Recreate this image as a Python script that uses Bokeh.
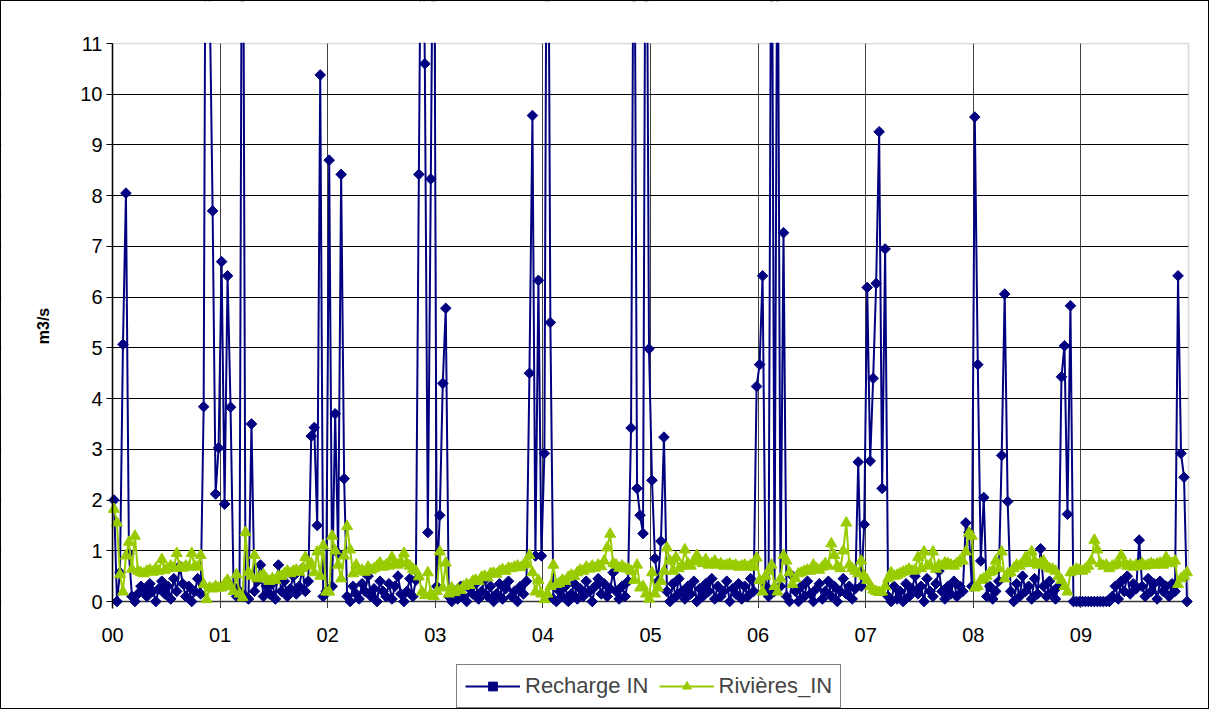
import numpy as np
from bokeh.plotting import figure
from bokeh.models import Range1d, FixedTicker, Legend, LegendItem, BoxAnnotation
from bokeh.embed import file_html
from bokeh.resources import INLINE

# ---- data (36 ten-day steps per year) ----
year_labels = ["00", "01", "02", "03", "04", "05", "06", "07", "08", "09"]
steps_per_year = 36

recharge_00 = [2.0, 0.0, 0.57, 5.07, 8.05, 0.95, 0.1, 0.0, 0.15, 0.3, 0.25, 0.1, 0.35, 0.2, 0.0, 0.25, 0.4, 0.15,
               0.3, 0.05, 0.45, 0.2, 0.7, 0.35, 0.1, 0.3, 0.0, 0.2, 0.45, 0.15, 3.84, 20.0, 12.0, 7.7, 2.12, 3.03]
recharge_01 = [6.7, 1.92, 6.42, 3.83, 0.3, 0.1, 0.2, 18.0, 0.1, 0.05, 3.5, 0.2, 0.4, 0.72, 0.1, 0.3, 0.15, 0.35,
               0.05, 0.72, 0.2, 0.4, 0.1, 0.25, 0.5, 0.15, 0.3, 0.65, 0.2, 0.4, 3.26, 3.43, 1.5, 10.38, 0.1, 0.2]
recharge_02 = [8.7, 0.3, 3.7, 0.95, 8.42, 2.42, 0.1, 0.0, 0.3, 0.15, 0.05, 0.35, 0.2, 0.5, 0.1, 0.25, 0.0, 0.4,
               0.2, 0.1, 0.35, 0.05, 0.3, 0.5, 0.15, 0.0, 0.2, 0.45, 0.1, 0.42, 8.42, 16.0, 10.6, 1.36, 8.33, 16.0]
recharge_03 = [0.3, 1.7, 4.3, 5.78, 0.1, 0.0, 0.2, 0.05, 0.3, 0.1, 0.0, 0.25, 0.15, 0.35, 0.05, 0.2, 0.43, 0.1,
               0.3, 0.0, 0.15, 0.35, 0.05, 0.25, 0.4, 0.1, 0.2, 0.0, 0.3, 0.15, 0.4, 4.5, 9.58, 0.9, 6.33, 0.9]
recharge_04 = [2.92, 18.0, 5.5, 0.05, 0.0, 0.2, 0.1, 0.3, 0.0, 0.15, 0.35, 0.05, 0.25, 0.1, 0.4, 0.2, 0.0, 0.3,
               0.45, 0.15, 0.35, 0.1, 0.25, 0.57, 0.2, 0.05, 0.3, 0.1, 0.4, 3.42, 16.0, 2.23, 1.7, 1.34, 17.0, 4.98]
recharge_05 = [2.39, 0.85, 0.4, 1.19, 3.24, 0.2, 0.0, 0.35, 0.1, 0.45, 0.2, 0.05, 0.3, 0.15, 0.4, 0.0, 0.25, 0.1,
               0.35, 0.2, 0.45, 0.05, 0.3, 0.1, 0.2, 0.4, 0.0, 0.25, 0.15, 0.35, 0.05, 0.3, 0.1, 0.45, 0.2, 4.24]
recharge_06 = [4.67, 6.42, 0.3, 0.1, 16.0, 0.2, 15.0, 0.3, 7.27, 0.1, 0.0, 0.5, 0.2, 0.0, 0.3, 0.1, 0.4, 0.15,
               0.0, 0.25, 0.35, 0.05, 0.2, 0.4, 0.1, 0.3, 0.0, 0.2, 0.45, 0.15, 0.3, 0.05, 0.25, 2.75, 0.3, 1.52]
recharge_07 = [6.19, 2.77, 4.4, 6.27, 9.26, 2.23, 6.95, 0.1, 0.0, 0.3, 0.05, 0.2, 0.0, 0.35, 0.1, 0.25, 0.5, 0.15,
               0.3, 0.0, 0.45, 0.2, 0.1, 0.35, 0.6, 0.2, 0.05, 0.3, 0.15, 0.4, 0.1, 0.3, 0.2, 1.55, 1.36, 0.3]
recharge_08 = [9.55, 4.67, 0.8, 2.05, 0.1, 0.3, 0.05, 0.2, 0.4, 2.88, 6.06, 1.97, 0.2, 0.0, 0.35, 0.1, 0.5, 0.2,
               0.3, 0.05, 0.45, 0.15, 1.04, 0.3, 0.1, 0.4, 0.2, 0.05, 0.3, 4.43, 5.04, 1.72, 5.83, 0.0, 0.0, 0.0]
recharge_09 = [0.0, 0.0, 0.0, 0.0, 0.0, 0.0, 0.0, 0.0, 0.0, 0.0, 0.1, 0.3, 0.05, 0.4, 0.2, 0.5, 0.15, 0.35,
               0.25, 1.21, 0.3, 0.1, 0.45, 0.2, 0.35, 0.05, 0.4, 0.2, 0.3, 0.1, 0.35, 0.2, 6.42, 2.92, 2.45, 0.0]

rivieres_00 = [1.82, 1.55, 0.53, 0.19, 0.9, 1.17, 0.64, 1.29, 0.6, 0.57, 0.55, 0.6, 0.62, 0.58, 0.65, 0.6, 0.83, 0.62,
               0.65, 0.7, 0.66, 0.95, 0.68, 0.66, 0.7, 0.68, 0.95, 0.7, 0.68, 0.91, 0.34, 0.04, 0.27, 0.25, 0.3, 0.27]
rivieres_01 = [0.27, 0.35, 0.42, 0.3, 0.2, 0.53, 0.15, 0.08, 1.36, 0.57, 0.5, 0.91, 0.45, 0.5, 0.53, 0.45, 0.4, 0.45,
               0.42, 0.5, 0.5, 0.55, 0.6, 0.55, 0.6, 0.62, 0.58, 0.65, 0.87, 0.7, 0.75, 0.57, 0.98, 0.5, 1.1, 0.19]
rivieres_02 = [0.19, 1.29, 1.0, 0.72, 0.45, 0.9, 1.48, 1.02, 0.55, 0.72, 0.6, 0.62, 0.58, 0.68, 0.62, 0.65, 0.7, 0.76,
               0.68, 0.72, 0.7, 0.87, 0.75, 0.72, 0.78, 0.95, 0.75, 0.7, 0.64, 0.6, 0.49, 0.19, 0.12, 0.57, 0.15, 0.1]
rivieres_03 = [0.2, 0.98, 0.27, 0.76, 0.15, 0.27, 0.18, 0.24, 0.22, 0.3, 0.34, 0.32, 0.4, 0.42, 0.4, 0.48, 0.5, 0.47,
               0.55, 0.56, 0.54, 0.6, 0.63, 0.6, 0.66, 0.65, 0.68, 0.7, 0.67, 0.72, 0.74, 0.91, 0.57, 0.19, 0.42, 0.15]
rivieres_04 = [0.04, 0.15, 0.3, 0.72, 0.34, 0.36, 0.42, 0.4, 0.48, 0.52, 0.5, 0.57, 0.62, 0.6, 0.68, 0.64, 0.7, 0.66,
               0.72, 0.69, 0.8, 1.06, 1.33, 0.75, 0.72, 0.66, 0.7, 0.65, 0.64, 0.6, 0.42, 0.72, 0.27, 0.3, 0.15, 0.05]
rivieres_05 = [0.57, 0.15, 0.27, 0.4, 0.6, 1.06, 0.8, 0.6, 0.87, 0.65, 0.7, 1.02, 0.75, 0.7, 0.8, 0.91, 0.78, 0.75,
               0.83, 0.72, 0.75, 0.8, 0.72, 0.75, 0.7, 0.72, 0.74, 0.7, 0.72, 0.68, 0.7, 0.72, 0.68, 0.72, 0.68, 0.86]
rivieres_06 = [0.42, 0.19, 0.5, 0.6, 0.72, 0.3, 0.19, 0.45, 0.91, 0.8, 0.57, 0.34, 0.45, 0.55, 0.57, 0.6, 0.62, 0.6,
               0.72, 0.65, 0.62, 0.68, 0.75, 0.7, 1.14, 0.91, 0.7, 0.65, 1.0, 1.55, 0.72, 0.65, 0.6, 0.55, 0.8, 0.5]
rivieres_07 = [0.42, 0.3, 0.23, 0.2, 0.18, 0.19, 0.3, 0.45, 0.57, 0.5, 0.52, 0.55, 0.58, 0.6, 0.64, 0.6, 0.62, 0.87,
               0.65, 0.98, 0.7, 0.72, 0.98, 0.64, 0.72, 0.7, 0.76, 0.75, 0.72, 0.7, 0.75, 0.8, 0.8, 0.98, 1.35, 1.29]
rivieres_08 = [0.27, 0.3, 0.42, 0.45, 0.5, 0.57, 0.6, 0.8, 0.65, 0.98, 0.45, 0.55, 0.57, 0.65, 0.72, 0.7, 0.75, 0.87,
               0.75, 0.98, 0.8, 0.72, 0.76, 0.8, 0.7, 0.65, 0.64, 0.6, 0.5, 0.42, 0.3, 0.19, 0.57, 0.6, 0.64, 0.62]
rivieres_09 = [0.6, 0.64, 0.7, 0.8, 1.21, 1.02, 0.75, 0.7, 0.72, 0.65, 0.7, 0.72, 0.75, 0.91, 0.75, 0.7, 0.72, 0.68,
               0.72, 0.7, 0.75, 0.7, 0.72, 0.75, 0.72, 0.74, 0.76, 0.72, 0.87, 0.78, 0.75, 0.8, 0.34, 0.45, 0.5, 0.57]

recharge = (recharge_00 + recharge_01 + recharge_02 + recharge_03 + recharge_04 +
            recharge_05 + recharge_06 + recharge_07 + recharge_08 + recharge_09)
rivieres = (rivieres_00 + rivieres_01 + rivieres_02 + rivieres_03 + rivieres_04 +
            rivieres_05 + rivieres_06 + rivieres_07 + rivieres_08 + rivieres_09)
t = [y + (i + 0.5) / steps_per_year for y in range(len(year_labels)) for i in range(steps_per_year)]

FONT = "Liberation Sans"
BLUE = "#000080"
GREEN = "#99CC00"

# ---- layout (pixels) ----
FIG_W, FIG_H = 1209, 709
X_MAX, Y_MAX = 10, 11
DATA_LEFT, DATA_RIGHT = 111, 1187      # screen x of 0 and 10
DATA_TOP, DATA_ZERO = 42, 600          # screen y of 11 and 0
px_x = (DATA_RIGHT - DATA_LEFT) / X_MAX
px_y = (DATA_ZERO - DATA_TOP) / Y_MAX
TICK_DROP = 6.5 / px_y                 # vertical grid lines hang below 0 like tick marks

# the frame covers the whole figure; everything outside the data area is masked
x_start = -DATA_LEFT / px_x
x_end = X_MAX + (FIG_W - DATA_RIGHT) / px_x
y_start = -(FIG_H - DATA_ZERO) / px_y
y_end = Y_MAX + DATA_TOP / px_y

p = figure(width=FIG_W, height=FIG_H, output_backend="svg", toolbar_location=None,
           x_range=Range1d(x_start, x_end), y_range=Range1d(y_start, y_end),
           min_border_left=0, min_border_right=0, min_border_top=0, min_border_bottom=0)
p.styles = {"border": "1px solid black"}
p.background_fill_color = "white"
p.border_fill_color = "white"
p.outline_line_color = None

# grids
p.xgrid.ticker = FixedTicker(ticks=list(range(X_MAX)))
p.xgrid.grid_line_color = "#404040"
p.xgrid.grid_line_width = 1
p.ygrid.ticker = FixedTicker(ticks=list(range(Y_MAX)))
p.ygrid.grid_line_color = "black"
p.ygrid.grid_line_width = 1


def mask(level="underlay", **edges):
    return BoxAnnotation(fill_color="white", fill_alpha=1, line_color=None, level=level, **edges)


# masks for the grid outside the plotting area
for box in (mask(right=0), mask(left=X_MAX), mask(bottom=Y_MAX), mask(top=-TICK_DROP)):
    p.add_layout(box)

# plot-area border and darker x axis line at 0
p.add_layout(BoxAnnotation(left=0, right=X_MAX, bottom=0, top=Y_MAX, fill_alpha=0,
                           line_color="#808080", line_width=1.5, level="underlay"))
p.add_layout(BoxAnnotation(left=0, right=X_MAX, bottom=0, top=0, fill_alpha=0,
                           line_color="#505050", line_width=2.5, level="underlay"))

# axes (placed inside the frame at fixed positions)
p.xaxis.fixed_location = -TICK_DROP
p.xaxis.ticker = FixedTicker(ticks=list(range(X_MAX)))
p.xaxis.major_label_overrides = {i: lab for i, lab in enumerate(year_labels)}
p.xaxis.axis_line_color = None
p.xaxis.major_tick_line_color = None
p.xaxis.minor_tick_line_color = None
p.xaxis.major_label_standoff = 14
p.xaxis.major_label_text_font = FONT
p.xaxis.major_label_text_font_size = "20px"
p.xaxis.major_label_text_color = "black"

p.yaxis.fixed_location = 0
p.yaxis.bounds = (-TICK_DROP, Y_MAX)
p.yaxis.ticker = FixedTicker(ticks=list(range(Y_MAX + 1)))
p.yaxis.axis_line_color = "black"
p.yaxis.axis_line_width = 1.5
p.yaxis.major_tick_line_color = "black"
p.yaxis.major_tick_out = 6
p.yaxis.major_tick_in = 0
p.yaxis.minor_tick_line_color = None
p.yaxis.major_label_standoff = 4
p.yaxis.major_label_text_font = FONT
p.yaxis.major_label_text_font_size = "20px"
p.yaxis.major_label_text_color = "black"
p.yaxis.axis_label = "m3/s"
p.yaxis.axis_label_text_font = FONT
p.yaxis.axis_label_text_font_style = "bold"
p.yaxis.axis_label_text_font_size = "16px"
p.yaxis.axis_label_text_color = "black"
p.yaxis.axis_label_standoff = 25

# series
r_line = p.line(t, recharge, line_color=BLUE, line_width=2)
r_mark = p.scatter(t, recharge, marker="square", angle=np.pi / 4, size=7.5,
                   fill_color=BLUE, line_color=BLUE, line_width=1)
v_line = p.line(t, rivieres, line_color=GREEN, line_width=2)
v_mark = p.scatter(t, rivieres, marker="triangle", size=11,
                   fill_color=GREEN, line_color=GREEN, line_width=1)

# clip the series at the top of the value axis (drawn above the glyphs)
p.add_layout(mask(level="overlay", left=-0.02, right=X_MAX + 0.02,
                  bottom=Y_MAX + 0.8 / px_y, top=y_end + 1))

LEGEND_LEFT, LEGEND_BOTTOM = 455, 707
legend = Legend(items=[LegendItem(label="Recharge IN", renderers=[r_line, r_mark]),
                       LegendItem(label="Rivières_IN", renderers=[v_line, v_mark])],
                orientation="horizontal", location=(LEGEND_LEFT, FIG_H - LEGEND_BOTTOM),
                border_line_color="black", border_line_width=1,
                background_fill_color="white", background_fill_alpha=1,
                label_text_font=FONT, label_text_font_size="22px",
                glyph_width=55, glyph_height=22, label_height=22,
                label_standoff=5, spacing=10, padding=8, margin=0)
p.add_layout(legend, "center")

open("out.html", "w").write(file_html(p, INLINE))
